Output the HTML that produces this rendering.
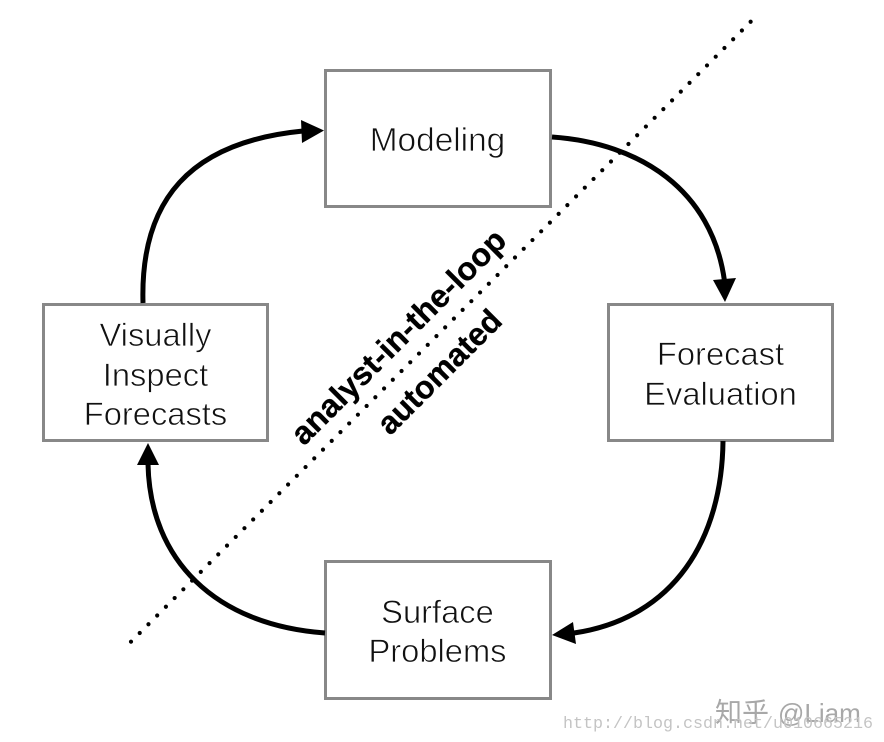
<!DOCTYPE html>
<html>
<head>
<meta charset="utf-8">
<style>
html,body{margin:0;padding:0;background:#fff;}
svg{display:block;}
</style>
</head>
<body>
<svg width="884" height="742" viewBox="0 0 884 742" xmlns="http://www.w3.org/2000/svg">
<rect width="884" height="742" fill="#fff"/>
<!-- dotted diagonal -->
<line x1="131" y1="641.7" x2="751.2" y2="21.2" stroke="#000" stroke-width="4.2" stroke-linecap="round" stroke-dasharray="0 12.345"/>
<!-- boxes -->
<g fill="none" stroke="#888" stroke-width="3">
<rect x="325.5" y="70.5" width="225" height="136"/>
<rect x="608.5" y="304.5" width="224" height="136"/>
<rect x="43.5" y="304.5" width="224" height="136"/>
<rect x="325.5" y="561.5" width="225" height="137"/>
</g>
<!-- curves -->
<g fill="none" stroke="#000" stroke-width="5">
<path d="M552 137C640 143 712 190 724.500 281"/>
<path d="M723 441C722 538 675 618 574 633"/>
<path d="M325 633C215 625 150 560 148 464"/>
<path d="M143 303C140 200 190 142 303 131"/>
</g>
<!-- arrowheads -->
<g fill="#000">
<polygon points="713,280 736,278 725,302"/>
<polygon points="573,622 576,644 552,635"/>
<polygon points="137,465 159,465 148,443"/>
<polygon points="301,120 302,143 324,130.500"/>
</g>
<!-- box labels -->
<g font-family="'Liberation Sans',sans-serif" font-size="32.700" fill="#111" stroke="#fff" stroke-width="0.7" text-anchor="middle">
<text x="437.500" y="151" font-size="33.400">Modeling</text>
<text x="720.500" y="365">Forecast</text>
<text x="720.500" y="405">Evaluation</text>
<text x="155.500" y="346">Visually</text>
<text x="155.500" y="386">Inspect</text>
<text x="155.500" y="425">Forecasts</text>
<text x="437.500" y="623">Surface</text>
<text x="437.500" y="662">Problems</text>
</g>
<!-- rotated labels -->
<g font-family="'Liberation Sans',sans-serif" font-size="32" font-weight="bold" fill="#000" stroke="#000" stroke-width="0.3" text-anchor="middle">
<text transform="translate(406,344.500) rotate(-45)" x="0" y="0" textLength="289" lengthAdjust="spacingAndGlyphs">analyst-in-the-loop</text>
<text transform="translate(447,379.500) rotate(-45)" x="0" y="0" textLength="161" lengthAdjust="spacingAndGlyphs">automated</text>
</g>
<!-- watermark -->
<text x="715" y="722" font-family="'Noto Sans CJK SC',sans-serif" font-size="27" fill="#a8a8a8">知乎</text>
<text x="778" y="722" font-family="'Liberation Sans',sans-serif" font-size="26" fill="#a8a8a8">@Liam</text>
<text x="563" y="728" font-family="'Liberation Mono',monospace" font-size="17" fill="#c4c4c4" textLength="310" lengthAdjust="spacingAndGlyphs">http://blog.csdn.net/u010665216</text>
</svg>
</body>
</html>
